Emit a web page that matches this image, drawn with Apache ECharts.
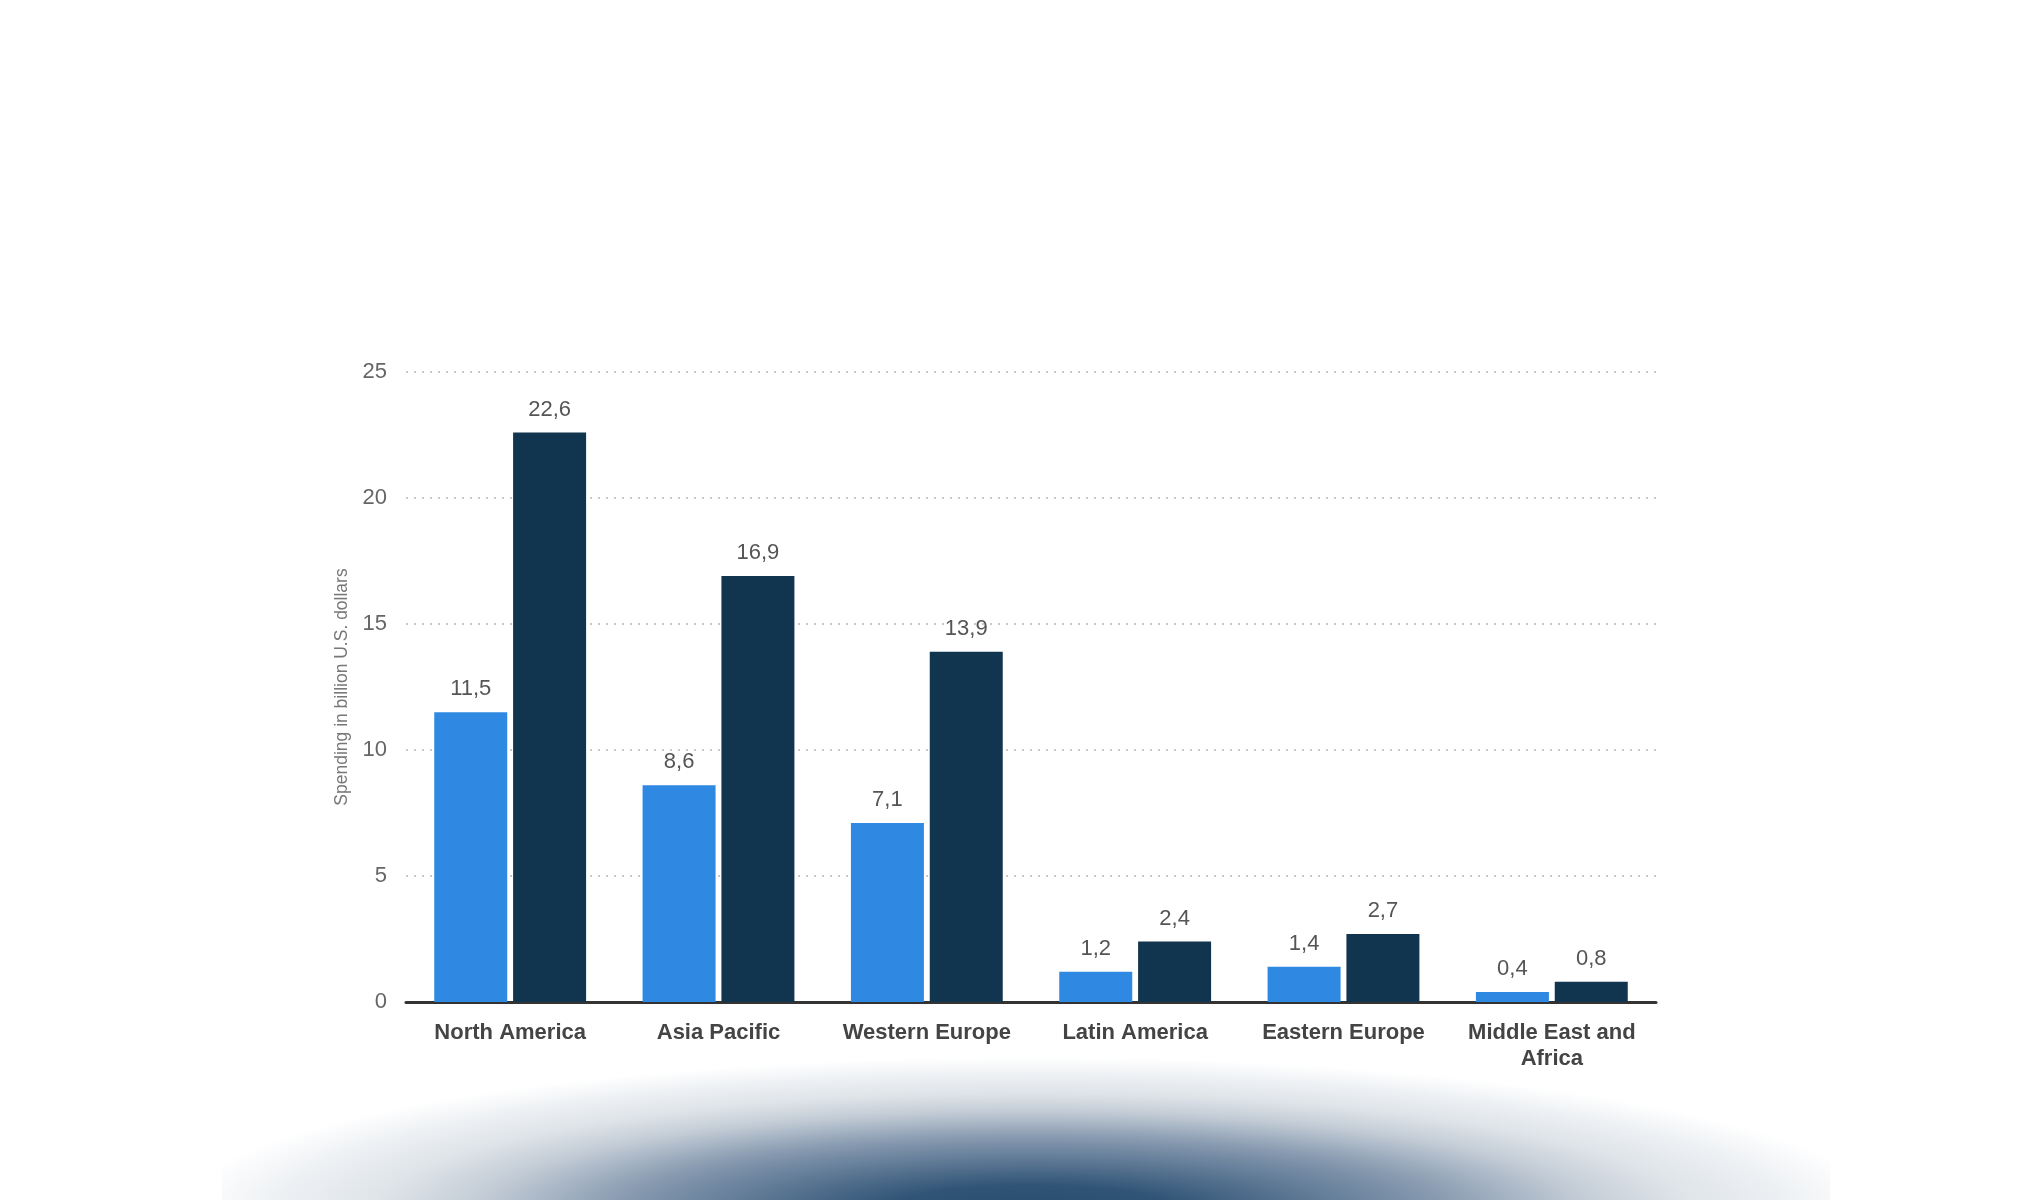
<!DOCTYPE html>
<html>
<head>
<meta charset="utf-8">
<script src="https://cdn.jsdelivr.net/npm/echarts@6/dist/echarts.min.js"></script>
<style>
html,body{margin:0;padding:0;background:#fff;}
#chart{width:2040px;height:1200px;}
</style>
</head>
<body>
<div id="chart"></div>
<script>
const categories = ['North America', 'Asia Pacific', 'Western Europe', 'Latin America', 'Eastern Europe', 'Middle East and\nAfrica'];
const seriesA = [11.5, 8.6, 7.1, 1.2, 1.4, 0.4];
const seriesB = [22.6, 16.9, 13.9, 2.4, 2.7, 0.8];
const yTicks = [0, 5, 10, 15, 20, 25];
const yAxisName = 'Spending in billion U.S. dollars';

const chart = echarts.init(document.getElementById('chart'));
const fmt = p => String(p.value).replace('.', ',');
const labelStyle = {
  show: true, position: 'top', distance: 12,
  color: '#555', fontSize: 22, fontFamily: 'Liberation Sans, Arial, sans-serif',
  formatter: fmt
};
chart.setOption({
  backgroundColor: '#ffffff',
  animation: false,
  graphic: [{
    type: 'rect',
    z: -10,
    silent: true,
    x: 1031, y: 1212,
    scaleX: 5.5,
    shape: { x: -147.1, y: -156, width: 292.4, height: 170 },
    style: {
      fill: {
        type: 'radial', x: 0, y: 0, r: 155, global: true,
        colorStops: [
          { offset: 0, color: '#284c6e' },
          { offset: 0.17, color: '#305476' },
          { offset: 0.32, color: '#5a7592' },
          { offset: 0.48, color: '#8699af' },
          { offset: 0.65, color: '#c3ccd6' },
          { offset: 0.77, color: '#dfe4e9' },
          { offset: 0.89, color: '#eef1f4' },
          { offset: 1, color: '#ffffff' }
        ]
      }
    }
  }],
  grid: { left: 406, right: 384, top: 372, bottom: 198, containLabel: false },
  xAxis: {
    type: 'category',
    data: categories,
    axisLine: { show: true, lineStyle: { color: '#333', width: 3 } },
    axisTick: { show: false },
    axisLabel: {
      color: '#444', fontSize: 22, fontWeight: 'bold', lineHeight: 26,
      fontFamily: 'Liberation Sans, Arial, sans-serif', margin: 18, interval: 0
    }
  },
  yAxis: {
    type: 'value',
    min: yTicks[0], max: yTicks[yTicks.length - 1], interval: yTicks[1] - yTicks[0],
    name: yAxisName,
    nameLocation: 'middle',
    nameGap: 50,
    nameTextStyle: { color: '#777', fontSize: 17.5, fontFamily: 'Liberation Sans, Arial, sans-serif' },
    axisLine: { show: false },
    axisTick: { show: false },
    axisLabel: { color: '#666', fontSize: 22, margin: 19, fontFamily: 'Liberation Sans, Arial, sans-serif' },
    splitLine: { show: true, lineStyle: { color: '#b8b8b8', width: 1.5, type: [2, 6] } }
  },
  series: [
    {
      type: 'bar', data: seriesA, barWidth: 73, barGap: '8%',
      itemStyle: { color: '#2f88e2' },
      label: labelStyle
    },
    {
      type: 'bar', data: seriesB, barWidth: 73,
      itemStyle: { color: '#12354f' },
      label: labelStyle
    }
  ]
});
</script>
</body>
</html>
